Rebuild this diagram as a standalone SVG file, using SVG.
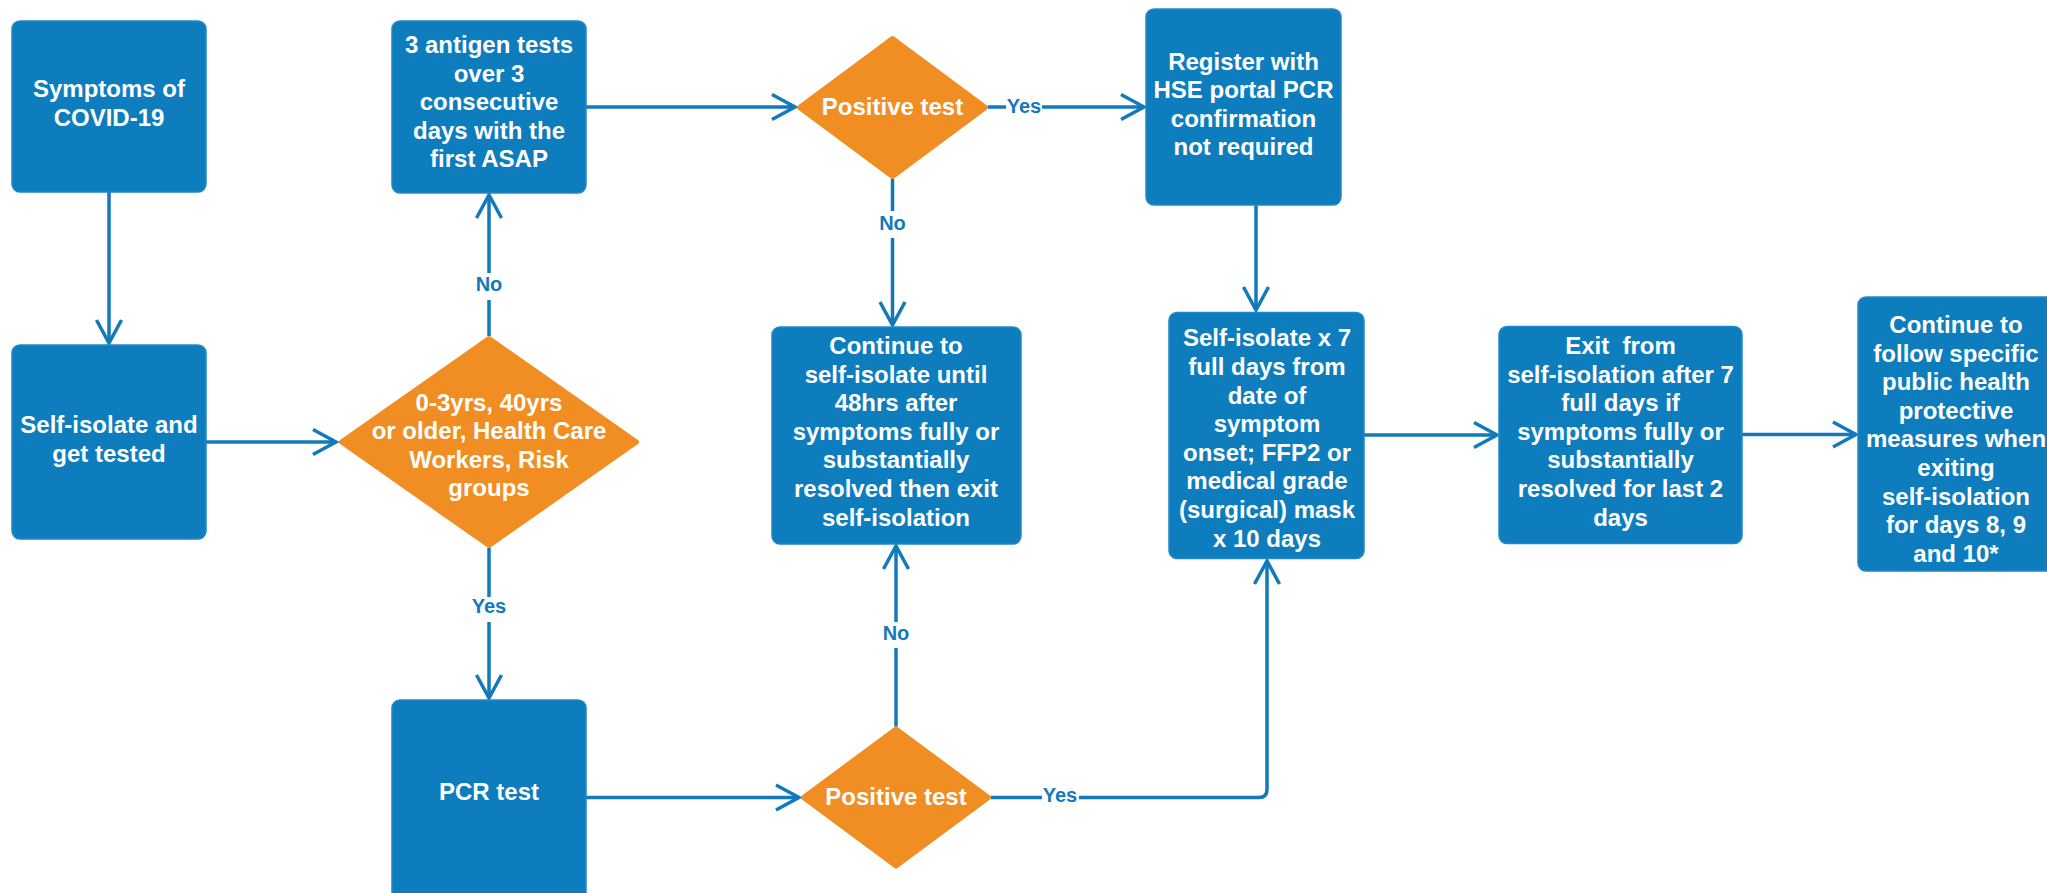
<svg xmlns="http://www.w3.org/2000/svg" width="2047" height="893" viewBox="0 0 2047 893">
<style>
.box{fill:#0e7dbd;stroke:#1f89c8;stroke-width:1.5}
.dia{fill:#f08e23;stroke:#f08e23;stroke-width:5;stroke-linejoin:round}
.t{font-family:"Liberation Sans",Arial,sans-serif;font-weight:bold;font-size:24px;fill:#ffffff;text-anchor:middle}
.lbl{font-family:"Liberation Sans",Arial,sans-serif;font-weight:bold;font-size:20px;fill:#1279bb;text-anchor:middle}
.c{fill:none;stroke:#1279bb;stroke-width:3.5;marker-end:url(#arr)}
.bg{fill:#ffffff}
</style>
<defs>
<marker id="arr" markerUnits="userSpaceOnUse" markerWidth="40" markerHeight="40" refX="0" refY="0" viewBox="-30 -20 40 40" orient="auto" overflow="visible">
<path d="M-23,-12.5 L0,0 L-23,12.5" fill="none" stroke="#1279bb" stroke-width="3.5" stroke-linejoin="miter"/>
</marker>
</defs>
<rect width="2047" height="893" fill="#ffffff"/>

<g id="connectors">
<path class="c" d="M109,192 V343"/>
<path class="c" d="M206,442 H336"/>
<path class="c" d="M489,336 V195"/>
<path class="c" d="M489,548 V698"/>
<path class="c" d="M586,107 H795"/>
<path class="c" d="M988,107 H1144"/>
<path class="c" d="M892.5,179 V325"/>
<path class="c" d="M1256,205 V310"/>
<path class="c" d="M1364,435 H1497"/>
<path class="c" d="M1742,434.5 H1856"/>
<path class="c" d="M586,797.5 H799"/>
<path class="c" d="M896,726.5 V546"/>
<path class="c" d="M991,797.5 H1259 Q1267,797.5 1267,789.5 V561"/>
<rect class="bg" x="474" y="273" width="30" height="27"/>
<text class="lbl" x="489" y="291">No</text>
<rect class="bg" x="470" y="597" width="38" height="25"/>
<text class="lbl" x="489" y="613">Yes</text>
<rect class="bg" x="1006" y="95" width="36" height="24"/>
<text class="lbl" x="1024" y="112.5">Yes</text>
<rect class="bg" x="877.5" y="211" width="30" height="27"/>
<text class="lbl" x="892.5" y="230">No</text>
<rect class="bg" x="881" y="622" width="30" height="26"/>
<text class="lbl" x="896" y="640">No</text>
<rect class="bg" x="1042" y="786" width="37" height="24"/>
<text class="lbl" x="1060" y="802">Yes</text>
</g>

<g id="symptoms">
<rect class="box" x="12" y="21" width="194" height="171" rx="8"/>
<text class="t" x="109" y="97">Symptoms of</text>
<text class="t" x="109" y="125.7">COVID-19</text>
</g>

<g id="self-isolate-tested">
<rect class="box" x="12" y="345" width="194" height="194" rx="8"/>
<text class="t" x="109" y="433">Self-isolate and</text>
<text class="t" x="109" y="461.5">get tested</text>
</g>

<g id="antigen">
<rect class="box" x="392" y="21" width="194" height="172" rx="8"/>
<text class="t" x="489" y="53">3 antigen tests</text>
<text class="t" x="489" y="81.5">over 3</text>
<text class="t" x="489" y="110">consecutive</text>
<text class="t" x="489" y="138.5">days with the</text>
<text class="t" x="489" y="167">first ASAP</text>
</g>

<g id="risk-decision">
<polygon class="dia" points="489,338.5 636.5,442 489,545.5 341.5,442"/>
<text class="t" x="489" y="410.5">0-3yrs, 40yrs</text>
<text class="t" x="489" y="439">or older, Health Care</text>
<text class="t" x="489" y="467.5">Workers, Risk</text>
<text class="t" x="489" y="496">groups</text>
</g>

<g id="positive-antigen">
<polygon class="dia" points="892.5,38.5 985.5,107.5 892.5,176.5 799.5,107.5"/>
<text class="t" x="892.5" y="115">Positive test</text>
</g>

<g id="register">
<rect class="box" x="1146" y="9" width="195" height="196" rx="8"/>
<text class="t" x="1243.5" y="69.6">Register with</text>
<text class="t" x="1243.5" y="98.2">HSE portal PCR</text>
<text class="t" x="1243.5" y="126.8">confirmation</text>
<text class="t" x="1243.5" y="155.4">not required</text>
</g>

<g id="continue-isolate">
<rect class="box" x="772" y="327" width="249" height="217" rx="8"/>
<text class="t" x="896" y="354">Continue to</text>
<text class="t" x="896" y="382.6">self-isolate until</text>
<text class="t" x="896" y="411.2">48hrs after</text>
<text class="t" x="896" y="439.8">symptoms fully or</text>
<text class="t" x="896" y="468.4">substantially</text>
<text class="t" x="896" y="497">resolved then exit</text>
<text class="t" x="896" y="525.6">self-isolation</text>
</g>

<g id="self-isolate-7">
<rect class="box" x="1169" y="312.5" width="195" height="246" rx="8"/>
<text class="t" x="1267" y="346.4">Self-isolate x 7</text>
<text class="t" x="1267" y="375">full days from</text>
<text class="t" x="1267" y="403.6">date of</text>
<text class="t" x="1267" y="432.2">symptom</text>
<text class="t" x="1267" y="460.8">onset; FFP2 or</text>
<text class="t" x="1267" y="489.4">medical grade</text>
<text class="t" x="1267" y="518">(surgical) mask</text>
<text class="t" x="1267" y="546.6">x 10 days</text>
</g>

<g id="exit">
<rect class="box" x="1499" y="326.5" width="243" height="217" rx="8"/>
<text class="t" x="1620.5" y="354" xml:space="preserve">Exit  from</text>
<text class="t" x="1620.5" y="382.6">self-isolation after 7</text>
<text class="t" x="1620.5" y="411.2">full days if</text>
<text class="t" x="1620.5" y="439.8">symptoms fully or</text>
<text class="t" x="1620.5" y="468.4">substantially</text>
<text class="t" x="1620.5" y="497">resolved for last 2</text>
<text class="t" x="1620.5" y="525.6">days</text>
</g>

<g id="continue-follow">
<rect class="box" x="1858" y="297" width="200" height="274" rx="8"/>
<text class="t" x="1956" y="333">Continue to</text>
<text class="t" x="1956" y="361.6">follow specific</text>
<text class="t" x="1956" y="390.2">public health</text>
<text class="t" x="1956" y="418.8">protective</text>
<text class="t" x="1956" y="447.4">measures when</text>
<text class="t" x="1956" y="476">exiting</text>
<text class="t" x="1956" y="504.6">self-isolation</text>
<text class="t" x="1956" y="533.2">for days 8, 9</text>
<text class="t" x="1956" y="561.8">and 10*</text>
</g>

<g id="pcr">
<rect class="box" x="392" y="700" width="194" height="205" rx="8"/>
<text class="t" x="489" y="800">PCR test</text>
</g>

<g id="positive-pcr">
<polygon class="dia" points="896,729 988.5,797.5 896,866 803.5,797.5"/>
<text class="t" x="896" y="805">Positive test</text>
</g>
</svg>
